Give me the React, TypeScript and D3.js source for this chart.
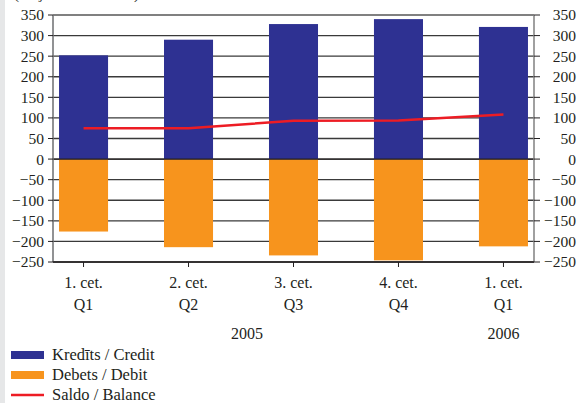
import { useMemo } from "react"
import * as d3 from "d3"

const quarters = ["1. cet.", "2. cet.", "3. cet.", "4. cet.", "1. cet."]
const quartersEn = ["Q1", "Q2", "Q3", "Q4", "Q1"]
const years = [
  { label: "2005", at: 1 },
  { label: "2006", at: 4 },
]
const credit = [252, 290, 328, 340, 321]
const debit = [-176, -214, -234, -246, -212]
const balance = [75, 75, 93, 94, 108]
const yTicks = [350, 300, 250, 200, 150, 100, 50, 0, -50, -100, -150, -200, -250]
const legendItems = [
  { label: "Kredīts / Credit", color: "#2e3192", kind: "bar" },
  { label: "Debets / Debit", color: "#f7941d", kind: "bar" },
  { label: "Saldo / Balance", color: "#ed1c24", kind: "line" },
]

const W = 579
const H = 403
const FONT = "'Liberation Serif', 'Times New Roman', serif"

export default function App() {
  const left = 53
  const right = 534
  const top = 15
  const bottom = 262

  const y = useMemo(() => d3.scaleLinear().domain([-250, 350]).range([bottom, top]), [])
  const idx = quarters.map((_, i) => String(i))
  const x = useMemo(
    () => d3.scaleBand().domain(idx).range([31, 556]).paddingInner(0.533).paddingOuter(0.267),
    [],
  )
  const cx = (i: number) => (x(String(i)) as number) + x.bandwidth() / 2

  const line = d3
    .line<number>()
    .x((_, i) => cx(i))
    .y((d) => y(d))

  return (
    <div style={{ position: "fixed", left: 0, top: 0 }}>
      <svg width={W} height={H} style={{ display: "block", background: "#fff" }} fontFamily={FONT}>
        <rect x={0} y={0} width={5} height={H} fill="#e6e7e8" />
        <text x={14} y={-1} fontSize={15} fill="#231f20">
          (milj. latu / millions)
        </text>

        {/* grid */}
        {yTicks.map((t) => (
          <line
            key={t}
            x1={left}
            x2={right}
            y1={y(t)}
            y2={y(t)}
            stroke={t === 350 ? "#808080" : "#3a3a3a"}
            strokeWidth={t === 350 ? 2 : 1.3}
          />
        ))}

        {/* bars */}
        {credit.map((v, i) => (
          <rect key={"c" + i} x={x(String(i))} y={y(v)} width={x.bandwidth()} height={y(0) - y(v)} fill="#2e3192" />
        ))}
        {debit.map((v, i) => (
          <rect key={"d" + i} x={x(String(i))} y={y(0)} width={x.bandwidth()} height={y(v) - y(0)} fill="#f7941d" />
        ))}
        <line x1={left} x2={right} y1={y(0)} y2={y(0)} stroke="#231f20" strokeWidth={1.3} />

        <path d={line(balance) as string} fill="none" stroke="#ed1c24" strokeWidth={2.5} />

        {/* axes */}
        <line x1={left} x2={left} y1={top} y2={bottom} stroke="#6d6e71" strokeWidth={1.5} />
        <line x1={right} x2={right} y1={top} y2={bottom} stroke="#808080" strokeWidth={1.5} />
        <line x1={left} x2={right} y1={bottom} y2={bottom} stroke="#231f20" strokeWidth={1.5} />
        {yTicks.map((t) => (
          <g key={"t" + t}>
            <line x1={left - 5} x2={left} y1={y(t)} y2={y(t)} stroke="#231f20" />
            <line x1={right} x2={right + 6} y1={y(t)} y2={y(t)} stroke="#231f20" />
            <text x={44} y={y(t)} dy="0.35em" textAnchor="end" fontSize={15.5} fill="#231f20">
              {t < 0 ? "\u2212" + Math.abs(t) : t}
            </text>
            <text x={576} y={y(t)} dy="0.35em" textAnchor="end" fontSize={15.5} fill="#231f20">
              {t < 0 ? "\u2212" + Math.abs(t) : t}
            </text>
          </g>
        ))}
        {quarters.map((q, i) => (
          <g key={"q" + i}>
            <line x1={cx(i)} x2={cx(i)} y1={bottom} y2={bottom + 5} stroke="#231f20" />
            <text x={cx(i)} y={288} textAnchor="middle" fontSize={16} fill="#231f20">
              {q}
            </text>
            <text x={cx(i)} y={310} textAnchor="middle" fontSize={16} fill="#231f20">
              {quartersEn[i]}
            </text>
          </g>
        ))}
        {years.map((yr) => (
          <text key={yr.label} x={yr.at === 1 ? 247 : cx(yr.at)} y={339} textAnchor="middle" fontSize={16} fill="#231f20">
            {yr.label}
          </text>
        ))}

        {/* legend */}
        {legendItems.map((it, i) => (
          <g key={it.label} transform={`translate(11,${355 + i * 20})`}>
            {it.kind === "bar" ? (
              <rect x={0} y={-4} width={33} height={8} fill={it.color} />
            ) : (
              <line x1={0} x2={33} y1={0} y2={0} stroke={it.color} strokeWidth={2.5} />
            )}
            <text x={41} y={0} dy="0.33em" fontSize={16.5} fill="#231f20">
              {it.label}
            </text>
          </g>
        ))}
      </svg>
    </div>
  )
}
